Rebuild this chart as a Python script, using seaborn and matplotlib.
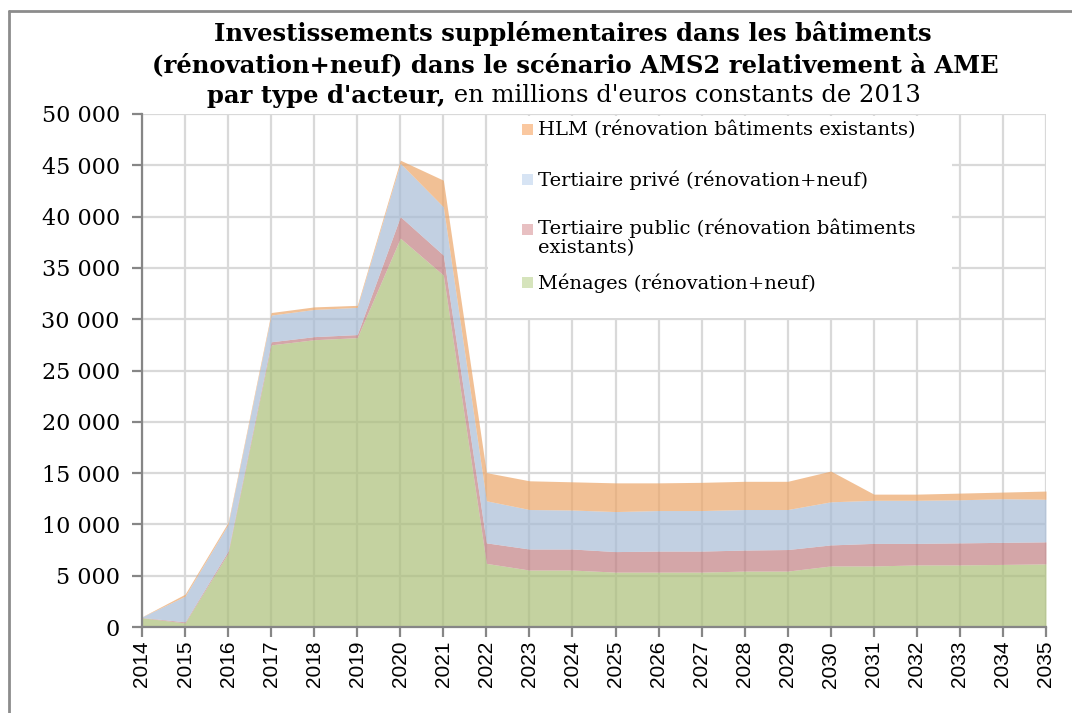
import matplotlib
matplotlib.use("Agg")
import matplotlib.pyplot as plt
from matplotlib.patches import Rectangle
from matplotlib.ticker import FuncFormatter, MultipleLocator
import seaborn as sns
import pandas as pd

# ---------------- data ----------------
years = list(range(2014, 2036))
menages = [900, 400, 7200, 27500, 28000, 28200, 37900, 34300, 6200, 5550, 5550,
           5350, 5350, 5350, 5450, 5450, 5950, 5950, 6050, 6050, 6100, 6150]
tertiaire_public = [30, 100, 200, 300, 300, 300, 2100, 1950, 2000, 2050, 2050,
                    2000, 2050, 2050, 2050, 2100, 2050, 2200, 2100, 2150, 2150, 2150]
tertiaire_prive = [50, 2500, 2600, 2600, 2650, 2650, 5200, 4700, 4100, 3850, 3800,
                   3900, 3950, 3950, 3950, 3900, 4200, 4200, 4200, 4200, 4250, 4150]
hlm = [20, 200, 200, 250, 250, 200, 300, 2600, 2750, 2800, 2750,
       2800, 2700, 2750, 2750, 2750, 3000, 600, 600, 650, 650, 800]

labels = ["Ménages (rénovation+neuf)",
          "Tertiaire public (rénovation bâtiments\nexistants)",
          "Tertiaire privé (rénovation+neuf)",
          "HLM (rénovation bâtiments existants)"]
title_lines = ["Investissements supplémentaires dans les bâtiments",
               "(rénovation+neuf) dans le scénario AMS2 relativement à AME"]
title_bold_part = "par type d'acteur,"
title_regular_part = " en millions d'euros constants de 2013"

df = pd.DataFrame({"year": years, labels[0]: menages, labels[1]: tertiaire_public,
                   labels[2]: tertiaire_prive, labels[3]: hlm})

# ---------------- style ----------------
sns.set_theme(style="whitegrid")
W, H = 1072, 713
fig = plt.figure(figsize=(W / 100, H / 100), dpi=100)
fig.patch.set_facecolor("white")

def fx(px):
    return px / W

def fy(py):
    return 1 - py / H

ax = fig.add_axes([fx(142), fy(627), fx(1046) - fx(142), fy(114) - fy(627)])
ax.set_facecolor("white")

area_colors = ["#abbf78", "#c28083", "#a8bcd6", "#eca669"]
legend_colors = ["#d6e4bc", "#e8c0c2", "#d7e4f4", "#fac8a0"]

ax.stackplot(df["year"], [df[l] for l in labels], colors=area_colors,
             alpha=0.7, linewidth=0, zorder=2)

ax.set_xlim(2014, 2035)
ax.set_ylim(0, 50000)
ax.xaxis.set_major_locator(MultipleLocator(1))
ax.yaxis.set_major_locator(MultipleLocator(5000))
ax.yaxis.set_major_formatter(FuncFormatter(lambda v, p: f"{int(v):,}".replace(",", " ")))
ax.grid(True, color="#d9d9d9", linewidth=1.6, zorder=0)
ax.set_axisbelow(True)

for s in ["top", "right"]:
    ax.spines[s].set_visible(False)
for s in ["left", "bottom"]:
    ax.spines[s].set_color("#868686")
    ax.spines[s].set_linewidth(1.6)
    ax.spines[s].set_zorder(3)

ax.tick_params(axis="both", which="major", direction="out", length=7, width=1.6,
               color="#868686", left=True, bottom=True)
ax.tick_params(axis="y", pad=9)
ax.tick_params(axis="x", pad=3)
for t in ax.get_yticklabels():
    t.set_fontfamily("DejaVu Serif")
    t.set_fontsize(16)
    t.set_color("#000000")
for t in ax.get_xticklabels():
    t.set_fontfamily(["Liberation Sans Narrow", "Liberation Sans"])
    t.set_fontsize(15)
    t.set_rotation(90)
    t.set_color("#000000")

ax.set_xlabel("")
ax.set_ylabel("")

# ---------------- legend (manual, Excel-like) ----------------
to_data = lambda px, py: (2014 + (px - 142) / 43.05, (627 - py) / 51.3 * 5000)
x0, y0 = to_data(488, 318)
x1, y1 = to_data(952, 116)
ax.add_patch(Rectangle((x0, y0), x1 - x0, y1 - y0, facecolor="white",
                       edgecolor="none", zorder=1))

entries = [(labels[3], legend_colors[3], 130),
           (labels[2], legend_colors[2], 180),
           (labels[1], legend_colors[1], 230),
           (labels[0], legend_colors[0], 283)]
for lab, col, py in entries:
    fig.patches.append(Rectangle((fx(522), fy(py + 5)), fx(11), 11 / H,
                                 transform=fig.transFigure, facecolor=col,
                                 edgecolor="none", zorder=5))
    if "\n" in lab:
        fig.text(fx(538), fy(py - 12), lab, ha="left", va="top",
                 fontsize=14, family="DejaVu Serif", color="#000000",
                 linespacing=1.1, zorder=6)
    else:
        fig.text(fx(538), fy(py), lab, ha="left", va="center",
                 fontsize=14, family="DejaVu Serif", color="#000000", zorder=6)

# ---------------- title ----------------
TS = 17.5
fig.text(fx(573), fy(33), title_lines[0], ha="center", va="center",
         fontsize=TS, fontweight="bold", family="DejaVu Serif", color="#000000")
fig.text(fx(575), fy(65), title_lines[1], ha="center", va="center",
         fontsize=TS, fontweight="bold", family="DejaVu Serif", color="#000000")

renderer = fig.canvas.get_renderer()
tb = fig.text(0, fy(96), title_bold_part, ha="left", va="center",
              fontsize=TS, fontweight="bold", family="DejaVu Serif", color="#000000")
tr = fig.text(0, fy(96), title_regular_part, ha="left", va="center",
              fontsize=TS, family="DejaVu Serif", color="#000000")
wb = tb.get_window_extent(renderer).width
wr = tr.get_window_extent(renderer).width
start = 564 - (wb + wr) / 2
tb.set_x(fx(start))
tr.set_x(fx(start + wb))

# ---------------- outer frame ----------------
fig.lines.append(plt.Line2D([fx(9), fx(9)], [0, fy(11)], transform=fig.transFigure,
                            color="#8c8c8c", linewidth=2))
fig.lines.append(plt.Line2D([fx(9), 1], [fy(11), fy(11)], transform=fig.transFigure,
                            color="#8c8c8c", linewidth=2))

fig.savefig("out.png", dpi=100, facecolor="white")
